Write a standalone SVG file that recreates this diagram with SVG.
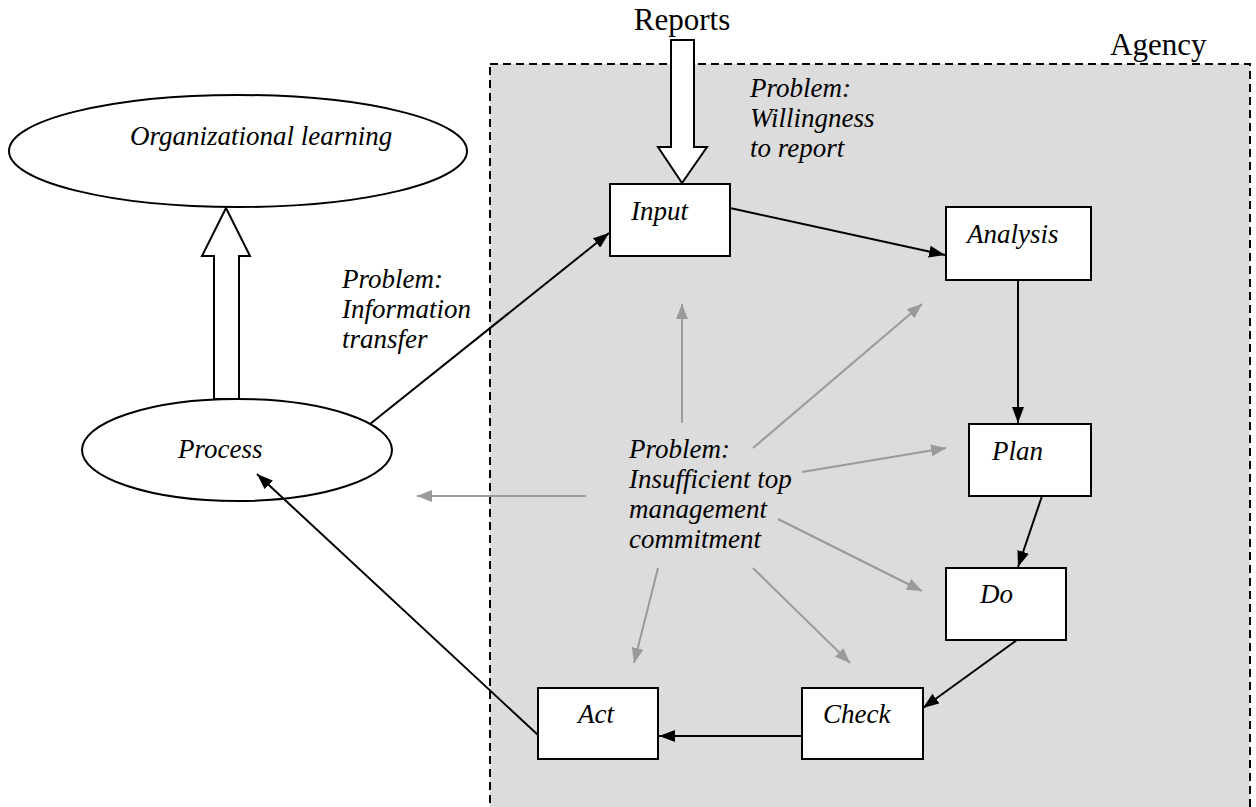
<svg xmlns="http://www.w3.org/2000/svg" width="1256" height="807" viewBox="0 0 1256 807">
  <style>
    .it { font-family: 'Liberation Serif', 'Times New Roman', serif; font-size: 27px; font-style: italic; fill: #000; }
    .hd { font-family: 'Liberation Serif', 'Times New Roman', serif; font-size: 31px; fill: #000; }
    .box { fill: #fff; stroke: #000; stroke-width: 2; }
    .ell { fill: #fff; stroke: #000; stroke-width: 2; }
    .blk { stroke: #000; stroke-width: 2; fill: none; }
    .gry { stroke: #9a9a9a; stroke-width: 2; fill: none; }
    .fat { fill: #fff; stroke: #000; stroke-width: 2; stroke-linejoin: miter; }
  </style>
  <defs>
    <marker id="ah" viewBox="0 0 16 12" refX="16" refY="6" markerWidth="16" markerHeight="12" markerUnits="userSpaceOnUse" orient="auto">
      <path d="M0,0 L16,6 L0,12 z" fill="#000"/>
    </marker>
    <marker id="ag" viewBox="0 0 15 12" refX="15" refY="6" markerWidth="15" markerHeight="12" markerUnits="userSpaceOnUse" orient="auto">
      <path d="M0,0 L15,6 L0,12 z" fill="#9a9a9a"/>
    </marker>
  </defs>

  <rect width="1256" height="807" fill="#fff"/>

  <!-- Agency boundary -->
  <g id="agency">
    <rect x="490" y="64" width="760" height="760" fill="#dcdcdc" stroke="#000" stroke-width="2" stroke-dasharray="8,5"/>
    <text class="hd" x="1110" y="55">Agency</text>
  </g>

  <!-- Reports inflow -->
  <g id="reports">
    <text class="hd" x="682" y="30" text-anchor="middle">Reports</text>
    <path class="fat" d="M671,40 L694,40 L694,147 L707,147 L682,183 L658,147 L671,147 Z"/>
  </g>

  <!-- Process to learning -->
  <g id="learning-arrow">
    <path class="fat" d="M214,399 L214,256 L202,256 L226,208 L250,256 L239,256 L239,399 Z"/>
  </g>

  <g id="org-learning">
    <ellipse class="ell" cx="238" cy="151" rx="229" ry="56"/>
    <text class="it" x="130" y="145">Organizational learning</text>
  </g>

  <g id="process">
    <ellipse class="ell" cx="237" cy="450" rx="155" ry="51"/>
    <text class="it" x="178" y="458">Process</text>
  </g>

  <g id="connectors">
    <line class="blk" x1="370" y1="424" x2="609" y2="233" marker-end="url(#ah)"/>
    <line class="blk" x1="730" y1="208" x2="945" y2="255" marker-end="url(#ah)"/>
    <line class="blk" x1="1018" y1="280" x2="1018" y2="423" marker-end="url(#ah)"/>
    <line class="blk" x1="1042" y1="496" x2="1018" y2="567" marker-end="url(#ah)"/>
    <line class="blk" x1="1017" y1="640" x2="923" y2="708" marker-end="url(#ah)"/>
    <line class="blk" x1="802" y1="736" x2="659" y2="736" marker-end="url(#ah)"/>
    <line class="blk" x1="538" y1="735" x2="257" y2="474" marker-end="url(#ah)"/>

    <line class="gry" x1="682" y1="423" x2="682" y2="304" marker-end="url(#ag)"/>
    <line class="gry" x1="586" y1="496" x2="417" y2="496" marker-end="url(#ag)"/>
    <line class="gry" x1="753" y1="448" x2="922" y2="304" marker-end="url(#ag)"/>
    <line class="gry" x1="802" y1="472" x2="946" y2="448" marker-end="url(#ag)"/>
    <line class="gry" x1="778" y1="519" x2="922" y2="591" marker-end="url(#ag)"/>
    <line class="gry" x1="753" y1="568" x2="850" y2="663" marker-end="url(#ag)"/>
    <line class="gry" x1="658" y1="568" x2="634" y2="663" marker-end="url(#ag)"/>
  </g>

  <g id="input">
    <rect class="box" x="610" y="184" width="120" height="72"/>
    <text class="it" x="631" y="220">Input</text>
  </g>
  <g id="analysis">
    <rect class="box" x="946" y="207" width="145" height="73"/>
    <text class="it" x="967" y="243">Analysis</text>
  </g>
  <g id="plan">
    <rect class="box" x="969" y="424" width="122" height="72"/>
    <text class="it" x="992" y="460">Plan</text>
  </g>
  <g id="do">
    <rect class="box" x="946" y="568" width="120" height="72"/>
    <text class="it" x="980" y="603">Do</text>
  </g>
  <g id="check">
    <rect class="box" x="802" y="688" width="121" height="71"/>
    <text class="it" x="823" y="723">Check</text>
  </g>
  <g id="act">
    <rect class="box" x="538" y="688" width="120" height="71"/>
    <text class="it" x="578" y="723">Act</text>
  </g>

  <g id="problem-willingness">
    <text class="it" x="750" y="97">Problem:</text>
    <text class="it" x="750" y="127">Willingness</text>
    <text class="it" x="750" y="157">to report</text>
  </g>
  <g id="problem-transfer">
    <text class="it" x="342" y="288">Problem:</text>
    <text class="it" x="342" y="318">Information</text>
    <text class="it" x="342" y="348">transfer</text>
  </g>
  <g id="problem-commitment">
    <text class="it" x="629" y="458">Problem:</text>
    <text class="it" x="629" y="488">Insufficient top</text>
    <text class="it" x="629" y="518">management</text>
    <text class="it" x="629" y="548">commitment</text>
  </g>
</svg>
